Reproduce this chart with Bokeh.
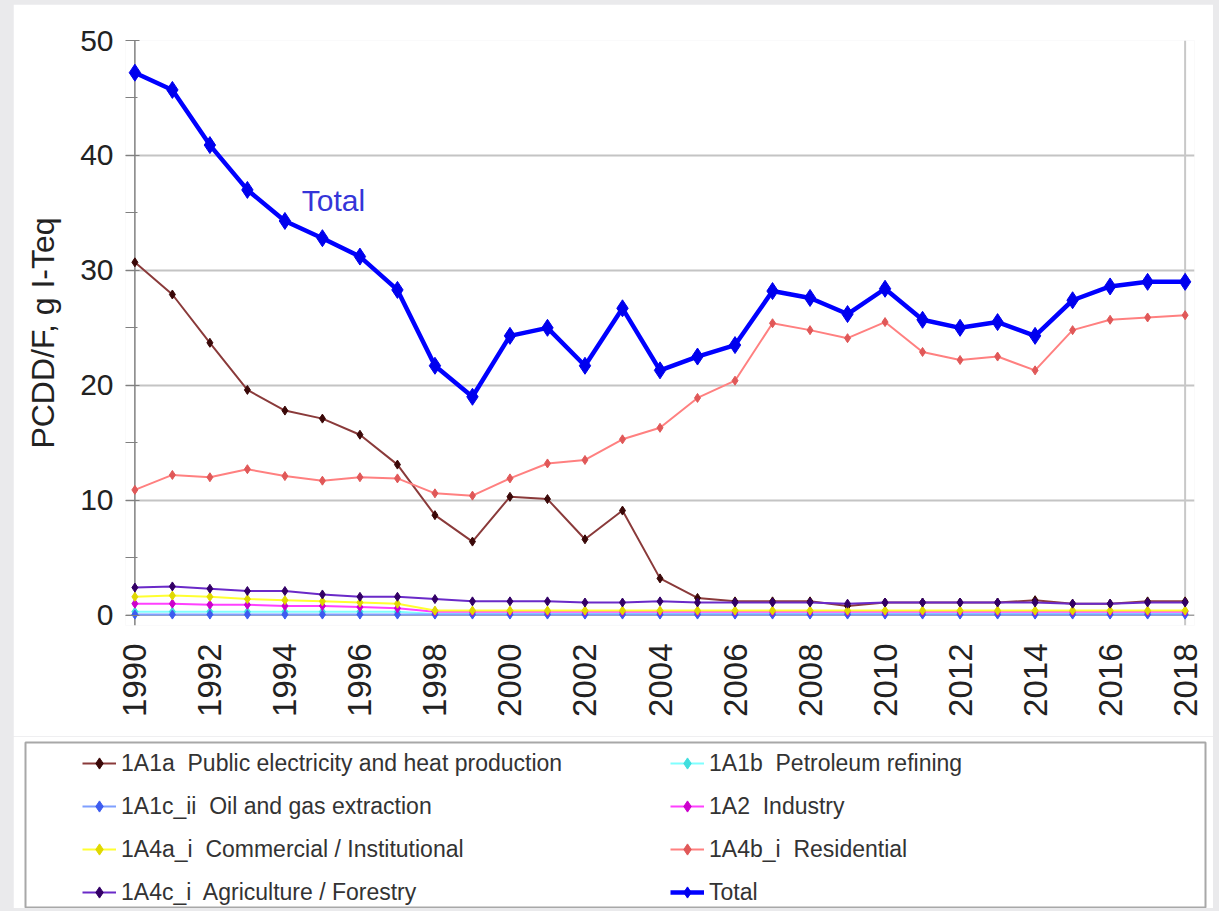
import math
from bokeh.plotting import figure
from bokeh.models import (Legend, LegendItem, FixedTicker, Span, Range1d, Label)
from bokeh.embed import file_html
from bokeh.resources import INLINE

# ---------------- data ----------------
years = list(range(1990, 2019))
tick_years = list(range(1990, 2019, 2))

public_elec = [30.7, 27.9, 23.7, 19.6, 17.8, 17.1, 15.7, 13.1, 8.7, 6.4,
               10.3, 10.1, 6.6, 9.1, 3.2, 1.5, 1.2, 1.2, 1.2, 0.8,
               1.1, 1.1, 1.1, 1.1, 1.3, 1.0, 1.0, 1.2, 1.2]
petroleum = [0.3, 0.3, 0.3, 0.3, 0.3, 0.3, 0.3, 0.3, 0.1, 0.1,
             0.1, 0.1, 0.1, 0.1, 0.1, 0.1, 0.1, 0.1, 0.1, 0.1,
             0.1, 0.1, 0.1, 0.1, 0.1, 0.1, 0.1, 0.1, 0.1]
oil_gas = [0.05, 0.05, 0.05, 0.05, 0.05, 0.05, 0.05, 0.05, 0.05, 0.05,
           0.05, 0.05, 0.05, 0.05, 0.05, 0.05, 0.05, 0.05, 0.05, 0.05,
           0.05, 0.05, 0.05, 0.05, 0.05, 0.05, 0.05, 0.05, 0.05]
industry = [1.0, 1.0, 0.9, 0.9, 0.8, 0.8, 0.7, 0.6, 0.3, 0.3,
            0.3, 0.3, 0.3, 0.3, 0.3, 0.3, 0.3, 0.3, 0.3, 0.3,
            0.3, 0.3, 0.3, 0.3, 0.3, 0.3, 0.3, 0.3, 0.3]
commercial = [1.6, 1.7, 1.6, 1.4, 1.3, 1.2, 1.1, 1.0, 0.4, 0.4,
              0.4, 0.4, 0.4, 0.4, 0.4, 0.4, 0.4, 0.4, 0.4, 0.4,
              0.4, 0.4, 0.4, 0.4, 0.4, 0.4, 0.4, 0.4, 0.4]
residential = [10.9, 12.2, 12.0, 12.7, 12.1, 11.7, 12.0, 11.9, 10.6, 10.4,
               11.9, 13.2, 13.5, 15.3, 16.3, 18.9, 20.4, 25.4, 24.8, 24.1,
               25.5, 22.9, 22.2, 22.5, 21.3, 24.8, 25.7, 25.9, 26.1]
agriculture = [2.4, 2.5, 2.3, 2.1, 2.1, 1.8, 1.6, 1.6, 1.4, 1.2,
               1.2, 1.2, 1.1, 1.1, 1.2, 1.1, 1.1, 1.1, 1.1, 1.0,
               1.1, 1.1, 1.1, 1.1, 1.1, 1.0, 1.0, 1.1, 1.1]
total = [47.2, 45.7, 40.9, 37.0, 34.3, 32.8, 31.2, 28.3, 21.7, 19.0,
         24.3, 25.0, 21.7, 26.7, 21.3, 22.5, 23.5, 28.2, 27.6, 26.2,
         28.4, 25.7, 25.0, 25.5, 24.3, 27.4, 28.6, 29.0, 29.0]

labels = ["1A1a  Public electricity and heat production",
          "1A1b  Petroleum refining",
          "1A1c_ii  Oil and gas extraction",
          "1A2  Industry",
          "1A4a_i  Commercial / Institutional",
          "1A4b_i  Residential",
          "1A4c_i  Agriculture / Forestry",
          "Total"]

FONT = "Liberation Sans"
TXT = "#222222"

# ---------------- main chart ----------------
p = figure(width=1200, height=732, output_backend="svg", toolbar_location=None,
           x_range=Range1d(1989.75, 2018.25), y_range=Range1d(-0.9, 50),
           min_border_left=112, min_border_right=19, min_border_top=36,
           min_border_bottom=111)
p.margin = (4, 6, 0, 13)
p.outline_line_color = None
p.background_fill_color = "white"
p.border_fill_color = "white"

p.xgrid.grid_line_color = None
p.ygrid.ticker = FixedTicker(ticks=[10, 20, 30, 40, 50])
p.ygrid.grid_line_color = "#c4c4c4"
p.ygrid.grid_line_width = 2

p.yaxis.ticker = FixedTicker(ticks=[0, 10, 20, 30, 40, 50],
                             minor_ticks=[5, 15, 25, 35, 45])
p.yaxis.axis_label = "PCDD/F, g I-Teq"
p.yaxis.axis_label_text_font = FONT
p.yaxis.axis_label_text_font_size = "32px"
p.yaxis.axis_label_text_font_style = "normal"
p.yaxis.axis_label_text_color = TXT
p.yaxis.axis_label_standoff = 16
p.yaxis.major_label_text_font = FONT
p.yaxis.major_label_text_font_size = "30px"
p.yaxis.major_label_text_color = TXT
p.yaxis.major_label_standoff = 12
p.yaxis.axis_line_color = None
p.yaxis.major_tick_in = 14
p.yaxis.major_tick_out = 0
p.yaxis.minor_tick_in = 12
p.yaxis.minor_tick_out = 0
p.yaxis.major_tick_line_color = "#808080"
p.yaxis.minor_tick_line_color = "#808080"

p.xaxis.ticker = FixedTicker(ticks=tick_years, minor_ticks=[])
p.xaxis.major_label_orientation = math.pi / 2
p.xaxis.major_label_text_font = FONT
p.xaxis.major_label_text_font_size = "33px"
p.xaxis.major_label_text_color = TXT
p.xaxis.major_label_standoff = 12
p.xaxis.axis_line_color = None
p.xaxis.major_tick_line_color = None
p.xaxis.minor_tick_line_color = None

p.add_layout(Span(location=0, dimension="width", line_color="#a0a0a0",
                  line_width=1.5, level="underlay"))
p.add_layout(Span(location=1990, dimension="height", line_color="#808080",
                  line_width=1.5, level="underlay"))
p.add_layout(Span(location=2018, dimension="height", line_color="#c8c8c8",
                  line_width=2, level="underlay"))

series = [
    (public_elec, "#8a3a3a", "#3a0808", 2, 9),
    (petroleum, "#80ffff", "#40dede", 2, 9),
    (oil_gas, "#7f9fff", "#3d5cf0", 2, 9),
    (industry, "#ff40ff", "#cc00cc", 2, 9),
    (commercial, "#ffff30", "#e0d800", 2, 9),
    (residential, "#ff8080", "#e05858", 2, 9),
    (agriculture, "#6a2ac8", "#330066", 2, 9),
    (total, "#0000ff", "#0000ee", 4.5, 17),
]

for vals, lc, mc, lw, ms in series:
    p.line(years, vals, line_color=lc, line_width=lw)
    p.scatter(years, vals, marker="diamond", size=ms, fill_color=mc,
              line_color=mc)

p.add_layout(Label(x=1994.45, y=36.1, text="Total", text_font=FONT,
                   text_font_size="30px", text_color="#3535d8",
                   text_baseline="middle", text_align="left"))

# ---------------- legend panel (separate root) ----------------
# its frame is the legend box; the series are re-drawn here only so that the
# legend has glyphs to show (they lie outside this panel's ranges).
q = figure(width=1200, height=172, output_backend="svg", toolbar_location=None,
           x_range=Range1d(0, 1), y_range=Range1d(100, 101),
           min_border_left=12, min_border_right=8, min_border_top=6,
           min_border_bottom=0)
q.margin = (0, 6, 0, 13)
q.axis.visible = False
q.grid.visible = False
q.outline_line_color = "#a8a8a8"
q.outline_line_width = 2
q.background_fill_color = "white"
q.border_fill_color = "white"

items = []
for (vals, lc, mc, lw, ms), lab in zip(series, labels):
    lr = q.line(years, vals, line_color=lc, line_width=lw)
    sr = q.scatter(years, vals, marker="diamond", size=ms, fill_color=mc,
                   line_color=mc)
    items.append(LegendItem(label=lab, renderers=[lr, sr]))

common = dict(glyph_width=34, glyph_height=28, label_height=28,
              label_standoff=5, spacing=15, padding=0, margin=0,
              border_line_color=None, background_fill_alpha=0,
              label_text_font=FONT, label_text_font_size="23px",
              label_text_color="#333333", orientation="vertical")
leg1 = Legend(items=[items[0], items[2], items[4], items[6]],
              location=(57, 2), **common)
leg2 = Legend(items=[items[1], items[3], items[5], items[7]],
              location=(645, 2), **common)
q.add_layout(leg1)
q.add_layout(leg2)

page = """
{% block postamble %}<style>html, body { background-color: #eaeaec; }</style>{% endblock %}
"""

open("out.html", "w").write(file_html([p, q], INLINE, template=page))
